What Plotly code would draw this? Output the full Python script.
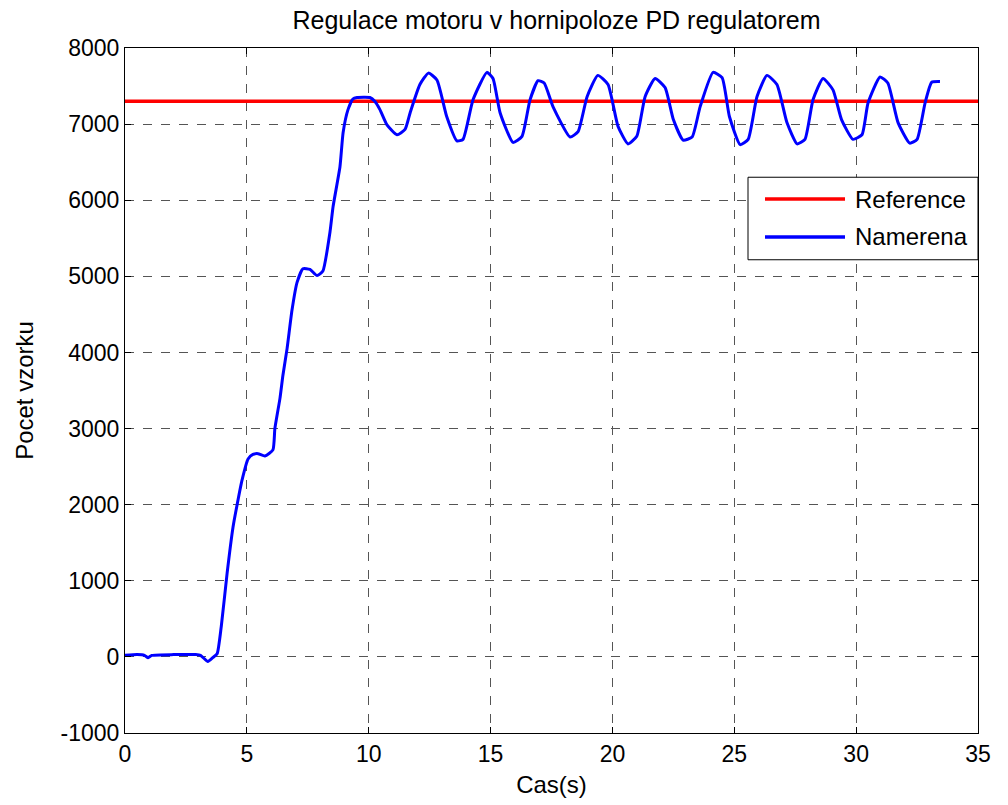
import plotly.graph_objects as go

t = [0, 0.5, 0.8, 0.95, 1.1, 2.0, 2.9, 3.1, 3.4, 3.6, 3.78, 3.95, 4.19, 4.43, 4.6, 4.8,
     5.05, 5.25, 5.46, 5.74, 6.07, 6.15, 6.36, 6.48, 6.65, 6.85, 7.06, 7.3, 7.59, 7.88,
     8.12, 8.41, 8.54, 8.82, 8.95, 9.15, 9.35, 9.52, 10.05, 10.25, 10.46, 10.75, 11.16,
     11.49, 11.7, 12.1, 12.45, 12.8, 13.2, 13.62, 13.87, 14.28, 14.85, 15.1, 15.39, 15.92,
     16.29, 16.62, 16.95, 17.2, 17.56, 18.26, 18.59, 18.96, 19.4, 19.82, 20.23, 20.64,
     21.0, 21.34, 21.75, 22.16, 22.5, 22.9, 23.27, 23.6, 24.13, 24.5, 24.8, 25.24, 25.57,
     25.93, 26.34, 26.75, 27.16, 27.58, 27.9, 28.23, 28.64, 29.05, 29.4, 29.87, 30.24,
     30.49, 30.98, 31.3, 31.72, 32.2, 32.5, 32.83, 33.1, 33.44]
namerena = [20, 30, 20, -10, 20, 30, 30, 20, -60, -10, 40, 400, 1100, 1700, 2000, 2320,
            2600, 2660, 2670, 2640, 2720, 3000, 3400, 3700, 4050, 4550, 4920, 5100, 5090, 5010,
            5070, 5580, 5920, 6440, 6890, 7190, 7330, 7350, 7350, 7300, 7190, 6990, 6860,
            6930, 7150, 7520, 7670, 7580, 7100, 6780, 6800, 7320, 7680, 7600, 7150, 6760,
            6840, 7320, 7570, 7540, 7230, 6830, 6900, 7360, 7640, 7520, 6970, 6740,
            6840, 7360, 7600, 7480, 7060, 6790, 6830, 7230, 7680, 7610, 7100, 6730, 6800,
            7360, 7640, 7520, 7020, 6740, 6800, 7320, 7600, 7450, 7060, 6800, 6860,
            7280, 7620, 7540, 7020, 6750, 6800, 7280, 7550, 7560]
ref_t = [0, 35]
reference = [7300, 7300]
series_names = ["Reference", "Namerena"]
series_colors = ["#ff0000", "#0000ff"]

x_ticks = [0, 5, 10, 15, 20, 25, 30, 35]
y_ticks = [-1000, 0, 1000, 2000, 3000, 4000, 5000, 6000, 7000, 8000]
y_tick_text = ["-1000", "0", "1000", "2000", "3000", "4000", "5000", "6000", "7000", "8000"]

font = "Liberation Sans, Arial, sans-serif"

fig = go.Figure()
fig.add_trace(go.Scatter(x=ref_t, y=reference, mode="lines", name=series_names[0],
                         line=dict(color=series_colors[0], width=3.5), showlegend=False))
fig.add_trace(go.Scatter(x=t, y=namerena, mode="lines", name=series_names[1],
                         line=dict(color=series_colors[1], width=3, shape="spline", smoothing=0.5),
                         showlegend=False))

axis_common = dict(showline=True, linecolor="black", linewidth=1, mirror="ticks",
                   ticks="inside", ticklen=6, tickcolor="black", showgrid=True,
                   gridcolor="#555555", griddash="dash", gridwidth=1, zeroline=False,
                   tickfont=dict(family=font, size=23, color="black"))

# custom legend box (paper coordinates)
L = 125; R = 978; T = 48; B = 737
def px(xp):
    return (xp - L) / (R - L)
def py(yp):
    return (B - yp) / (B - T)

fig.add_shape(type="rect", xref="paper", yref="paper",
              x0=px(748), x1=px(978), y0=py(261), y1=py(178),
              line=dict(color="black", width=1), fillcolor="white", layer="above")
for i, (nm, col) in enumerate(zip(series_names, series_colors)):
    yy = 200 + i * 38
    fig.add_shape(type="line", xref="paper", yref="paper",
                  x0=px(765), x1=px(845), y0=py(yy), y1=py(yy),
                  line=dict(color=col, width=3.5), layer="above")
    fig.add_annotation(text=nm, xref="paper", yref="paper", x=px(853), y=py(yy),
                       xanchor="left", yanchor="middle", showarrow=False,
                       font=dict(family=font, size=24, color="black"))

fig.update_layout(
    width=1008, height=805,
    paper_bgcolor="white", plot_bgcolor="white",
    margin=dict(l=125, r=30, t=48, b=68),
    title=dict(text="Regulace motoru v hornipoloze PD regulatorem", x=(289 + 824) / 2 / 1008,
               xanchor="center", xref="container", y=1 - 20 / 805, yanchor="middle",
               font=dict(family=font, size=25, color="black")),
    xaxis=dict(range=[0, 35], tickvals=x_ticks,
               title=dict(text="Cas(s)", font=dict(family=font, size=24, color="black"), standoff=10),
               **axis_common),
    yaxis=dict(range=[-1000, 8000], tickvals=y_ticks, ticktext=y_tick_text,
               title=dict(text="Pocet vzorku", font=dict(family=font, size=24, color="black"), standoff=20),
               **axis_common),
    showlegend=False,
)

fig.write_html("out.html")
